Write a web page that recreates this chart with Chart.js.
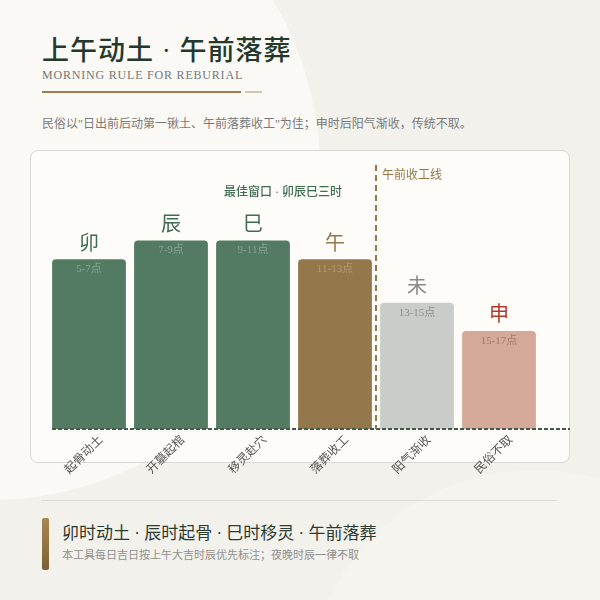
<!DOCTYPE html>
<html>
<head>
<meta charset="utf-8">
<script src="https://cdn.jsdelivr.net/npm/chart.js@4"></script>
<style>
  html, body { margin: 0; padding: 0; }
  body {
    width: 600px; height: 600px; position: relative; overflow: hidden;
    background: #f3f1eb;
    font-family: "Liberation Serif", "Noto Sans CJK SC", serif;
  }
  .glow1 { position: absolute; left: -340px; top: -160px; width: 660px; height: 660px; border-radius: 50%; background: #faf9f5; }
  .glow2 { position: absolute; left: 305px; top: 470px; width: 460px; height: 460px; border-radius: 50%; background: #f6f4ef; }
  .title { position: absolute; left: 42px; top: 29px; font-size: 27px; font-weight: 500; color: #24382c; letter-spacing: 1px; }
  .sub { position: absolute; left: 42px; top: 68px; font-size: 12px; color: #777; letter-spacing: 0.8px; }
  .line1 { position: absolute; left: 42px; top: 91px; width: 199px; height: 2px; background: #9c7d4d; }
  .line2 { position: absolute; left: 245px; top: 91px; width: 17px; height: 2px; background: #cfc6b4; }
  .desc { position: absolute; left: 42px; top: 114px; font-size: 12px; color: #7a7a7a; }
  .card { position: absolute; left: 30px; top: 150px; width: 538px; height: 311px; background: #fdfcf9; border: 1px solid #d8d8d4; border-radius: 8px; }
  #wrap { position: absolute; left: 30px; top: 150px; width: 540px; height: 335px; }
  .hr { position: absolute; left: 42px; top: 500px; width: 515px; height: 1px; background: #dcdad4; }
  .bar { position: absolute; left: 42px; top: 518px; width: 7px; height: 52px; border-radius: 2px; background: linear-gradient(#a8874f, #7a6236); }
  .foot1 { position: absolute; left: 62px; top: 519px; font-size: 17px; color: #2c3a30; }
  .foot2 { position: absolute; left: 62px; top: 546px; font-size: 11px; color: #8f8f8f; }
</style>
</head>
<body>
<div class="glow1"></div>
<div class="glow2"></div>
<div class="title">上午动土 · 午前落葬</div>
<div class="sub">MORNING RULE FOR REBURIAL</div>
<div class="line1"></div>
<div class="line2"></div>
<div class="desc">民俗以"日出前后动第一锹土、午前落葬收工"为佳；申时后阳气渐收，传统不取。</div>
<div class="card"></div>
<div id="wrap"><canvas id="myChart"></canvas></div>
<div class="hr"></div>
<div class="bar"></div>
<div class="foot1">卯时动土 · 辰时起骨 · 巳时移灵 · 午前落葬</div>
<div class="foot2">本工具每日吉日按上午大吉时辰优先标注；夜晚时辰一律不取</div>

<script>
const categories = ['起骨动土', '开墓起棺', '移灵赴穴', '落葬收工', '阳气渐收', '民俗不取'];
const branches = ['卯', '辰', '巳', '午', '未', '申'];
const hours = ['5-7点', '7-9点', '9-11点', '11-13点', '13-15点', '15-17点'];
const scores = [90, 100, 100, 90, 67, 52];

const barColors = ['#537a62', '#537a62', '#537a62', '#94784b', '#c9ccc8', '#d5a999'];
const branchColors = ['#3f6b50', '#3f6b50', '#3f6b50', '#94784b', '#8a8a8a', '#b03a2e'];
const hourColors = ['#86a592', '#86a592', '#86a592', '#b09a70', '#8d8d8d', '#a07a6c'];

const serif = '"Liberation Serif", "Noto Sans CJK SC", serif';

const marks = {
    id: 'marks',
    afterDatasetsDraw(chart) {
        const ctx = chart.ctx;
        const area = chart.chartArea;
        const meta = chart.getDatasetMeta(0);
        ctx.save();
        // baseline
        ctx.strokeStyle = '#3d5a4a';
        ctx.lineWidth = 2;
        ctx.setLineDash([4, 2]);
        ctx.beginPath();
        ctx.moveTo(area.left + 4, area.bottom);
        ctx.lineTo(chart.width, area.bottom);
        ctx.stroke();

        // noon divider
        const xs = chart.scales.x;
        const dx = (xs.getPixelForValue(3) + xs.getPixelForValue(4)) / 2;
        ctx.strokeStyle = '#94784b';
        ctx.setLineDash([6, 4]);
        ctx.beginPath();
        ctx.moveTo(dx, area.top);
        ctx.lineTo(dx, area.bottom);
        ctx.stroke();
        ctx.setLineDash([]);

        ctx.textBaseline = 'middle';
        ctx.font = '12px ' + serif;
        ctx.fillStyle = '#94784b';
        ctx.textAlign = 'left';
        ctx.fillText('午前收工线', dx + 6, area.top + 11);

        ctx.font = '500 12px ' + serif;
        ctx.fillStyle = '#3f6b50';
        ctx.textAlign = 'right';
        ctx.fillText('最佳窗口 · 卯辰巳三时', dx - 34, area.top + 28);

        meta.data.forEach((bar, i) => {
            ctx.textAlign = 'center';
            ctx.font = '20px ' + serif;
            ctx.fillStyle = branchColors[i];
            ctx.fillText(branches[i], bar.x, bar.y - 15);
            ctx.font = '11px ' + serif;
            ctx.fillStyle = hourColors[i];
            ctx.fillText(hours[i], bar.x, bar.y + 10);
        });
        ctx.restore();
    }
};

const myChart = new Chart(document.getElementById('myChart'), {
    type: 'bar',
    data: {
        labels: categories,
        datasets: [{
            data: scores,
            backgroundColor: barColors,
            borderRadius: { topLeft: 4, topRight: 4 },
            borderSkipped: 'bottom',
            barPercentage: 0.9,
            categoryPercentage: 1
        }]
    },
    options: {
        responsive: true,
        maintainAspectRatio: false,
        animation: false,
        layout: { padding: { left: 18, right: 30, top: 15, bottom: 0 } },
        plugins: { legend: { display: false }, tooltip: { enabled: false } },
        scales: {
            x: {
                grid: { display: false },
                border: { display: false },
                ticks: {
                    color: '#555',
                    font: { size: 12, family: serif },
                    minRotation: 45,
                    maxRotation: 45,
                    padding: -4,
                    labelOffset: 12
                },
                afterFit(s) { s.height = 56; }
            },
            y: {
                display: false,
                min: 0,
                max: 140
            }
        }
    },
    plugins: [marks]
});
</script>
</body>
</html>
